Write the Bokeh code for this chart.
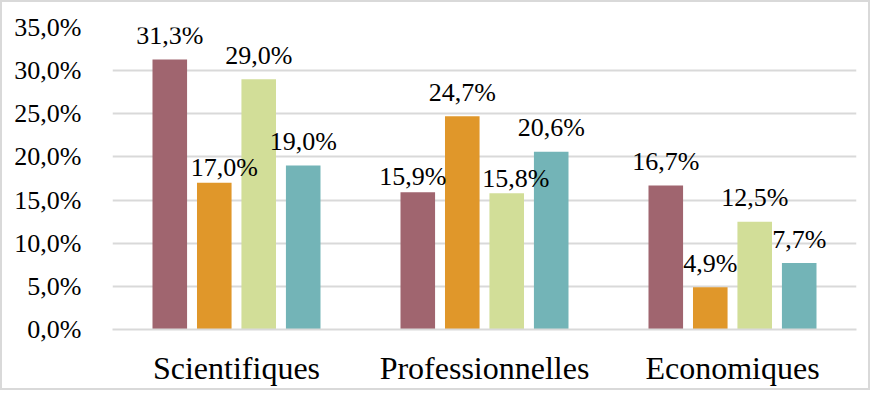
from bokeh.plotting import figure
from bokeh.models import ColumnDataSource, FactorRange, FixedTicker
from bokeh.transform import dodge
from bokeh.core.properties import value
from bokeh.embed import file_html
from bokeh.resources import INLINE

categories = ["Scientifiques", "Professionnelles", "Economiques"]
series_a = [31.3, 15.9, 16.7]
series_b = [17.0, 24.7, 4.9]
series_c = [29.0, 15.8, 12.5]
series_d = [19.0, 20.6, 7.7]
tick_values = [0, 5, 10, 15, 20, 25, 30, 35]
tick_labels = ["0,0%", "5,0%", "10,0%", "15,0%", "20,0%", "25,0%", "30,0%", "35,0%"]

colors = ["#A0656F", "#E0972A", "#D2DE98", "#73B4B7"]
offsets = [-0.269, -0.0896, 0.0896, 0.269]
# label nudges (px) where labels were shifted to avoid overlaps
nudge_dx = [[0, -5, 0], [10, 0, 0], [0, 9, 0], [0, 0, 0]]
nudge_dy = [[0, 8, 0], [9, 0, 0], [0, 9, 0], [0, 0, 0]]

FONT = value("Liberation Serif")

p = figure(x_range=FactorRange(*categories, range_padding=0), y_range=(0, 35),
           frame_width=744, frame_height=302, output_backend="svg", toolbar_location=None,
           min_border_left=110, min_border_right=12, min_border_top=25, min_border_bottom=59)
p.styles = {"border": "2px solid #d9d9d9"}

all_series = [series_a, series_b, series_c, series_d]
sources = []
for i, vals in enumerate(all_series):
    src = ColumnDataSource(dict(
        cat=categories, v=vals,
        lbl=[f"{v:.1f}".replace(".", ",") + "%" for v in vals],
        dx=nudge_dx[i], dy=[-24 + d for d in nudge_dy[i]],
    ))
    sources.append(src)
    p.vbar(x=dodge("cat", offsets[i], range=p.x_range), top="v", width=0.1394,
           source=src, fill_color=colors[i], line_color=None)

for i, src in enumerate(sources):
    p.text(x=dodge("cat", offsets[i], range=p.x_range), y="v", text="lbl", source=src,
           text_font=FONT, text_font_size="26px", text_color="#000000",
           text_align="center", text_baseline="alphabetic",
           x_offset="dx", y_offset="dy")

p.yaxis.ticker = FixedTicker(ticks=tick_values)
p.yaxis.major_label_overrides = {t: l for t, l in zip(tick_values, tick_labels)}
p.yaxis.axis_line_color = None
p.yaxis.major_tick_line_color = None
p.yaxis.minor_tick_line_color = None
p.yaxis.major_label_standoff = 25
p.yaxis.major_label_text_font = "Liberation Serif"
p.yaxis.major_label_text_font_size = "26px"
p.yaxis.major_label_text_color = "#000000"

p.xaxis.axis_line_color = "#d9d9d9"
p.xaxis.axis_line_width = 2
p.xaxis.major_tick_line_color = None
p.xaxis.minor_tick_line_color = None
p.xaxis.major_label_standoff = 14
p.xaxis.major_label_text_font = "Liberation Serif"
p.xaxis.major_label_text_font_size = "32px"
p.xaxis.major_label_text_color = "#000000"

p.xgrid.grid_line_color = None
p.ygrid.grid_line_color = "#d9d9d9"
p.ygrid.grid_line_width = 2
p.outline_line_color = None

open("out.html", "w").write(file_html(p, INLINE))
